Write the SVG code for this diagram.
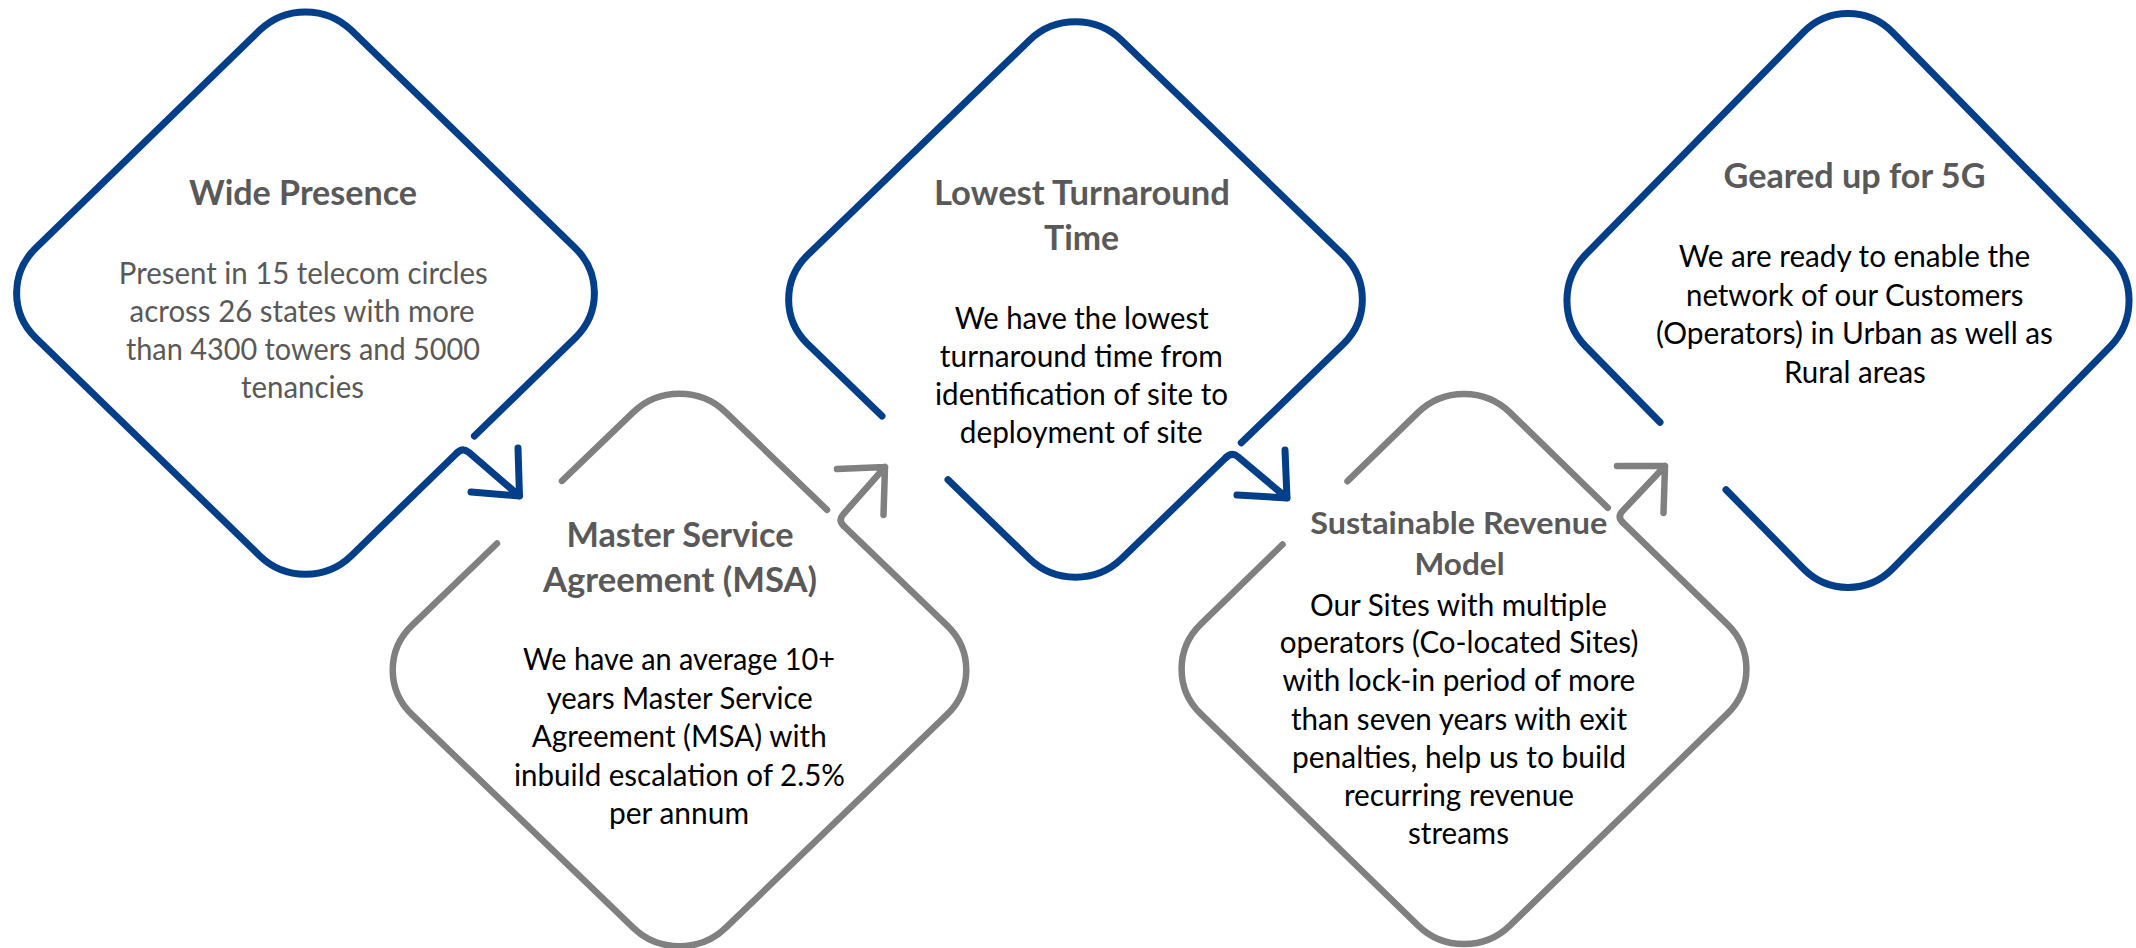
<svg xmlns="http://www.w3.org/2000/svg" width="2136" height="948" viewBox="0 0 2136 948">
<style>
.blue{fill:none;stroke:#033f88;stroke-width:7;stroke-linecap:round;stroke-linejoin:round}
.gray{fill:none;stroke:#808080;stroke-width:6.5;stroke-linecap:round;stroke-linejoin:round}
text{font-family:Lato,"Open Sans","Liberation Sans",sans-serif;text-anchor:middle}
.t{font-weight:700;font-size:34px;fill:#595959}
.t2{font-weight:700;font-size:31px;fill:#595959}
.b{font-size:30px;fill:#000}
.bg{font-size:30px;fill:#595959}
</style>
<rect width="2136" height="948" fill="#fff"/>
<g id="node-wide-presence">
<path class="blue" d="M 474.4 436 L 575.43 337.64 C 600.73 313.02 600.73 272.98 575.43 248.36 L 351.37 30.34 C 326.07 5.72 284.93 5.72 259.63 30.34 L 35.57 248.36 C 10.27 272.98 10.27 313.02 35.57 337.64 L 259.63 555.66 C 284.93 580.28 326.07 580.28 351.37 555.66 L 457.17 452.68"/>
<text class="t" x="303" y="205" textLength="228" lengthAdjust="spacingAndGlyphs">Wide Presence</text>
<text class="bg" x="303.3" y="284" textLength="369" lengthAdjust="spacingAndGlyphs">Present in 15 telecom circles</text>
<text class="bg" x="302.1" y="322" textLength="345" lengthAdjust="spacingAndGlyphs">across 26 states with more</text>
<text class="bg" x="302.9" y="360" textLength="354" lengthAdjust="spacingAndGlyphs">than 4300 towers and 5000</text>
<text class="bg" x="302.5" y="398" textLength="123" lengthAdjust="spacingAndGlyphs">tenancies</text>
</g>
<g id="node-msa">
<path class="gray" d="M 562 480.9 L 633.41 412.1 C 658.83 387.61 700.17 387.61 725.59 412.1 L 827 509.8 M 843.66 525.85 L 947.21 625.6 C 972.63 650.09 972.63 689.91 947.21 714.4 L 725.59 927.9 C 700.17 952.39 658.83 952.39 633.41 927.9 L 411.79 714.4 C 386.37 689.91 386.37 650.09 411.79 625.6 L 497 543.5"/>
<text class="t" x="680" y="547" textLength="227" lengthAdjust="spacingAndGlyphs">Master Service</text>
<text class="t" x="680" y="592" textLength="274" lengthAdjust="spacingAndGlyphs">Agreement (MSA)</text>
<text class="b" x="679" y="670" textLength="312" lengthAdjust="spacingAndGlyphs">We have an average 10+</text>
<text class="b" x="679.7" y="708.5" textLength="266" lengthAdjust="spacingAndGlyphs">years Master Service</text>
<text class="b" x="679.2" y="747" textLength="295" lengthAdjust="spacingAndGlyphs">Agreement (MSA) with</text>
<text class="b" x="679.5" y="785.5" textLength="331" lengthAdjust="spacingAndGlyphs">inbuild escalation of 2.5%</text>
<text class="b" x="679" y="824" textLength="140" lengthAdjust="spacingAndGlyphs">per annum</text>
</g>
<g id="node-turnaround">
<path class="blue" d="M 1241.3 442.8 L 1343.32 344.01 C 1368.68 319.46 1368.68 279.54 1343.32 254.99 L 1121.48 40.21 C 1096.12 15.66 1054.88 15.66 1029.52 40.21 L 807.68 254.99 C 782.32 279.54 782.32 319.46 807.68 344.01 L 882 416 M 948 479.8 L 1029.52 558.79 C 1054.88 583.34 1096.12 583.34 1121.48 558.79 L 1226.25 457.36"/>
<text class="t" x="1082" y="205.4" textLength="296" lengthAdjust="spacingAndGlyphs">Lowest Turnaround</text>
<text class="t" x="1081.6" y="250" textLength="75" lengthAdjust="spacingAndGlyphs">Time</text>
<text class="b" x="1081.7" y="328.6" textLength="254" lengthAdjust="spacingAndGlyphs">We have the lowest</text>
<text class="b" x="1081.3" y="366.8" textLength="283" lengthAdjust="spacingAndGlyphs">turnaround time from</text>
<text class="b" x="1081.5" y="405" textLength="293" lengthAdjust="spacingAndGlyphs">identification of site to</text>
<text class="b" x="1081.3" y="443" textLength="243" lengthAdjust="spacingAndGlyphs">deployment of site</text>
</g>
<g id="node-revenue">
<path class="gray" d="M 1347.5 481.2 L 1418.16 412.36 C 1443.44 387.73 1484.56 387.73 1509.84 412.36 L 1607.8 507.8 M 1622.73 522.38 L 1727.46 624.34 C 1752.74 648.97 1752.74 689.03 1727.46 713.66 L 1509.84 925.64 C 1484.56 950.27 1443.44 950.27 1418.16 925.64 L 1200.54 713.66 C 1175.26 689.03 1175.26 648.97 1200.54 624.34 L 1282.5 544.5"/>
<text class="t2" x="1458.7" y="534" textLength="297" lengthAdjust="spacingAndGlyphs">Sustainable Revenue</text>
<text class="t2" x="1459.5" y="574.6" textLength="90" lengthAdjust="spacingAndGlyphs">Model</text>
<text class="b" x="1458.5" y="615.5" textLength="297" lengthAdjust="spacingAndGlyphs">Our Sites with multiple</text>
<text class="b" x="1459.1" y="653" textLength="358.6" lengthAdjust="spacingAndGlyphs">operators (Co-located Sites)</text>
<text class="b" x="1458.9" y="691" textLength="352.8" lengthAdjust="spacingAndGlyphs">with lock-in period of more</text>
<text class="b" x="1459" y="729.5" textLength="336" lengthAdjust="spacingAndGlyphs">than seven years with exit</text>
<text class="b" x="1459" y="767.7" textLength="334" lengthAdjust="spacingAndGlyphs">penalties, help us to build</text>
<text class="b" x="1458.9" y="805.7" textLength="230" lengthAdjust="spacingAndGlyphs">recurring revenue</text>
<text class="b" x="1458.5" y="843.8" textLength="101" lengthAdjust="spacingAndGlyphs">streams</text>
</g>
<g id="node-5g">
<path class="blue" d="M 1726 489.7 L 1803.22 568.57 C 1827.92 593.79 1868.08 593.79 1892.78 568.57 L 2110.52 346.23 C 2135.22 321.01 2135.22 279.99 2110.52 254.77 L 1892.78 32.43 C 1868.08 7.21 1827.92 7.21 1803.22 32.43 L 1585.48 254.77 C 1560.78 279.99 1560.78 321.01 1585.48 346.23 L 1660 422.3"/>
<text class="t" x="1854.5" y="188.3" textLength="262" lengthAdjust="spacingAndGlyphs">Geared up for 5G</text>
<text class="b" x="1854.5" y="266.7" textLength="351.6" lengthAdjust="spacingAndGlyphs">We are ready to enable the</text>
<text class="b" x="1854.8" y="305.5" textLength="337.5" lengthAdjust="spacingAndGlyphs">network of our Customers</text>
<text class="b" x="1854.5" y="344" textLength="397" lengthAdjust="spacingAndGlyphs">(Operators) in Urban as well as</text>
<text class="b" x="1854.9" y="382.5" textLength="142" lengthAdjust="spacingAndGlyphs">Rural areas</text>
</g>
<g id="connectors">
<path class="blue" d="M 457.17 452.68 Q 462.9 447.1 468.9 452.4 L 519.5 496 M 518 448 L 519.5 496 L 471 492"/>
<path class="gray" d="M 843.66 525.85 Q 837.9 520.3 843.2 514.3 L 885 467 M 837 469 L 885 467 L 883.5 515"/>
<path class="blue" d="M 1226.25 457.36 Q 1232 451.8 1238.1 456.9 L 1287 498 M 1285 450 L 1287 498 L 1237 495"/>
<path class="gray" d="M 1622.73 522.38 Q 1617 516.8 1622.55 511.05 L 1665 466 M 1617 466 L 1665 466 L 1663.5 513"/>
</g>
</svg>
